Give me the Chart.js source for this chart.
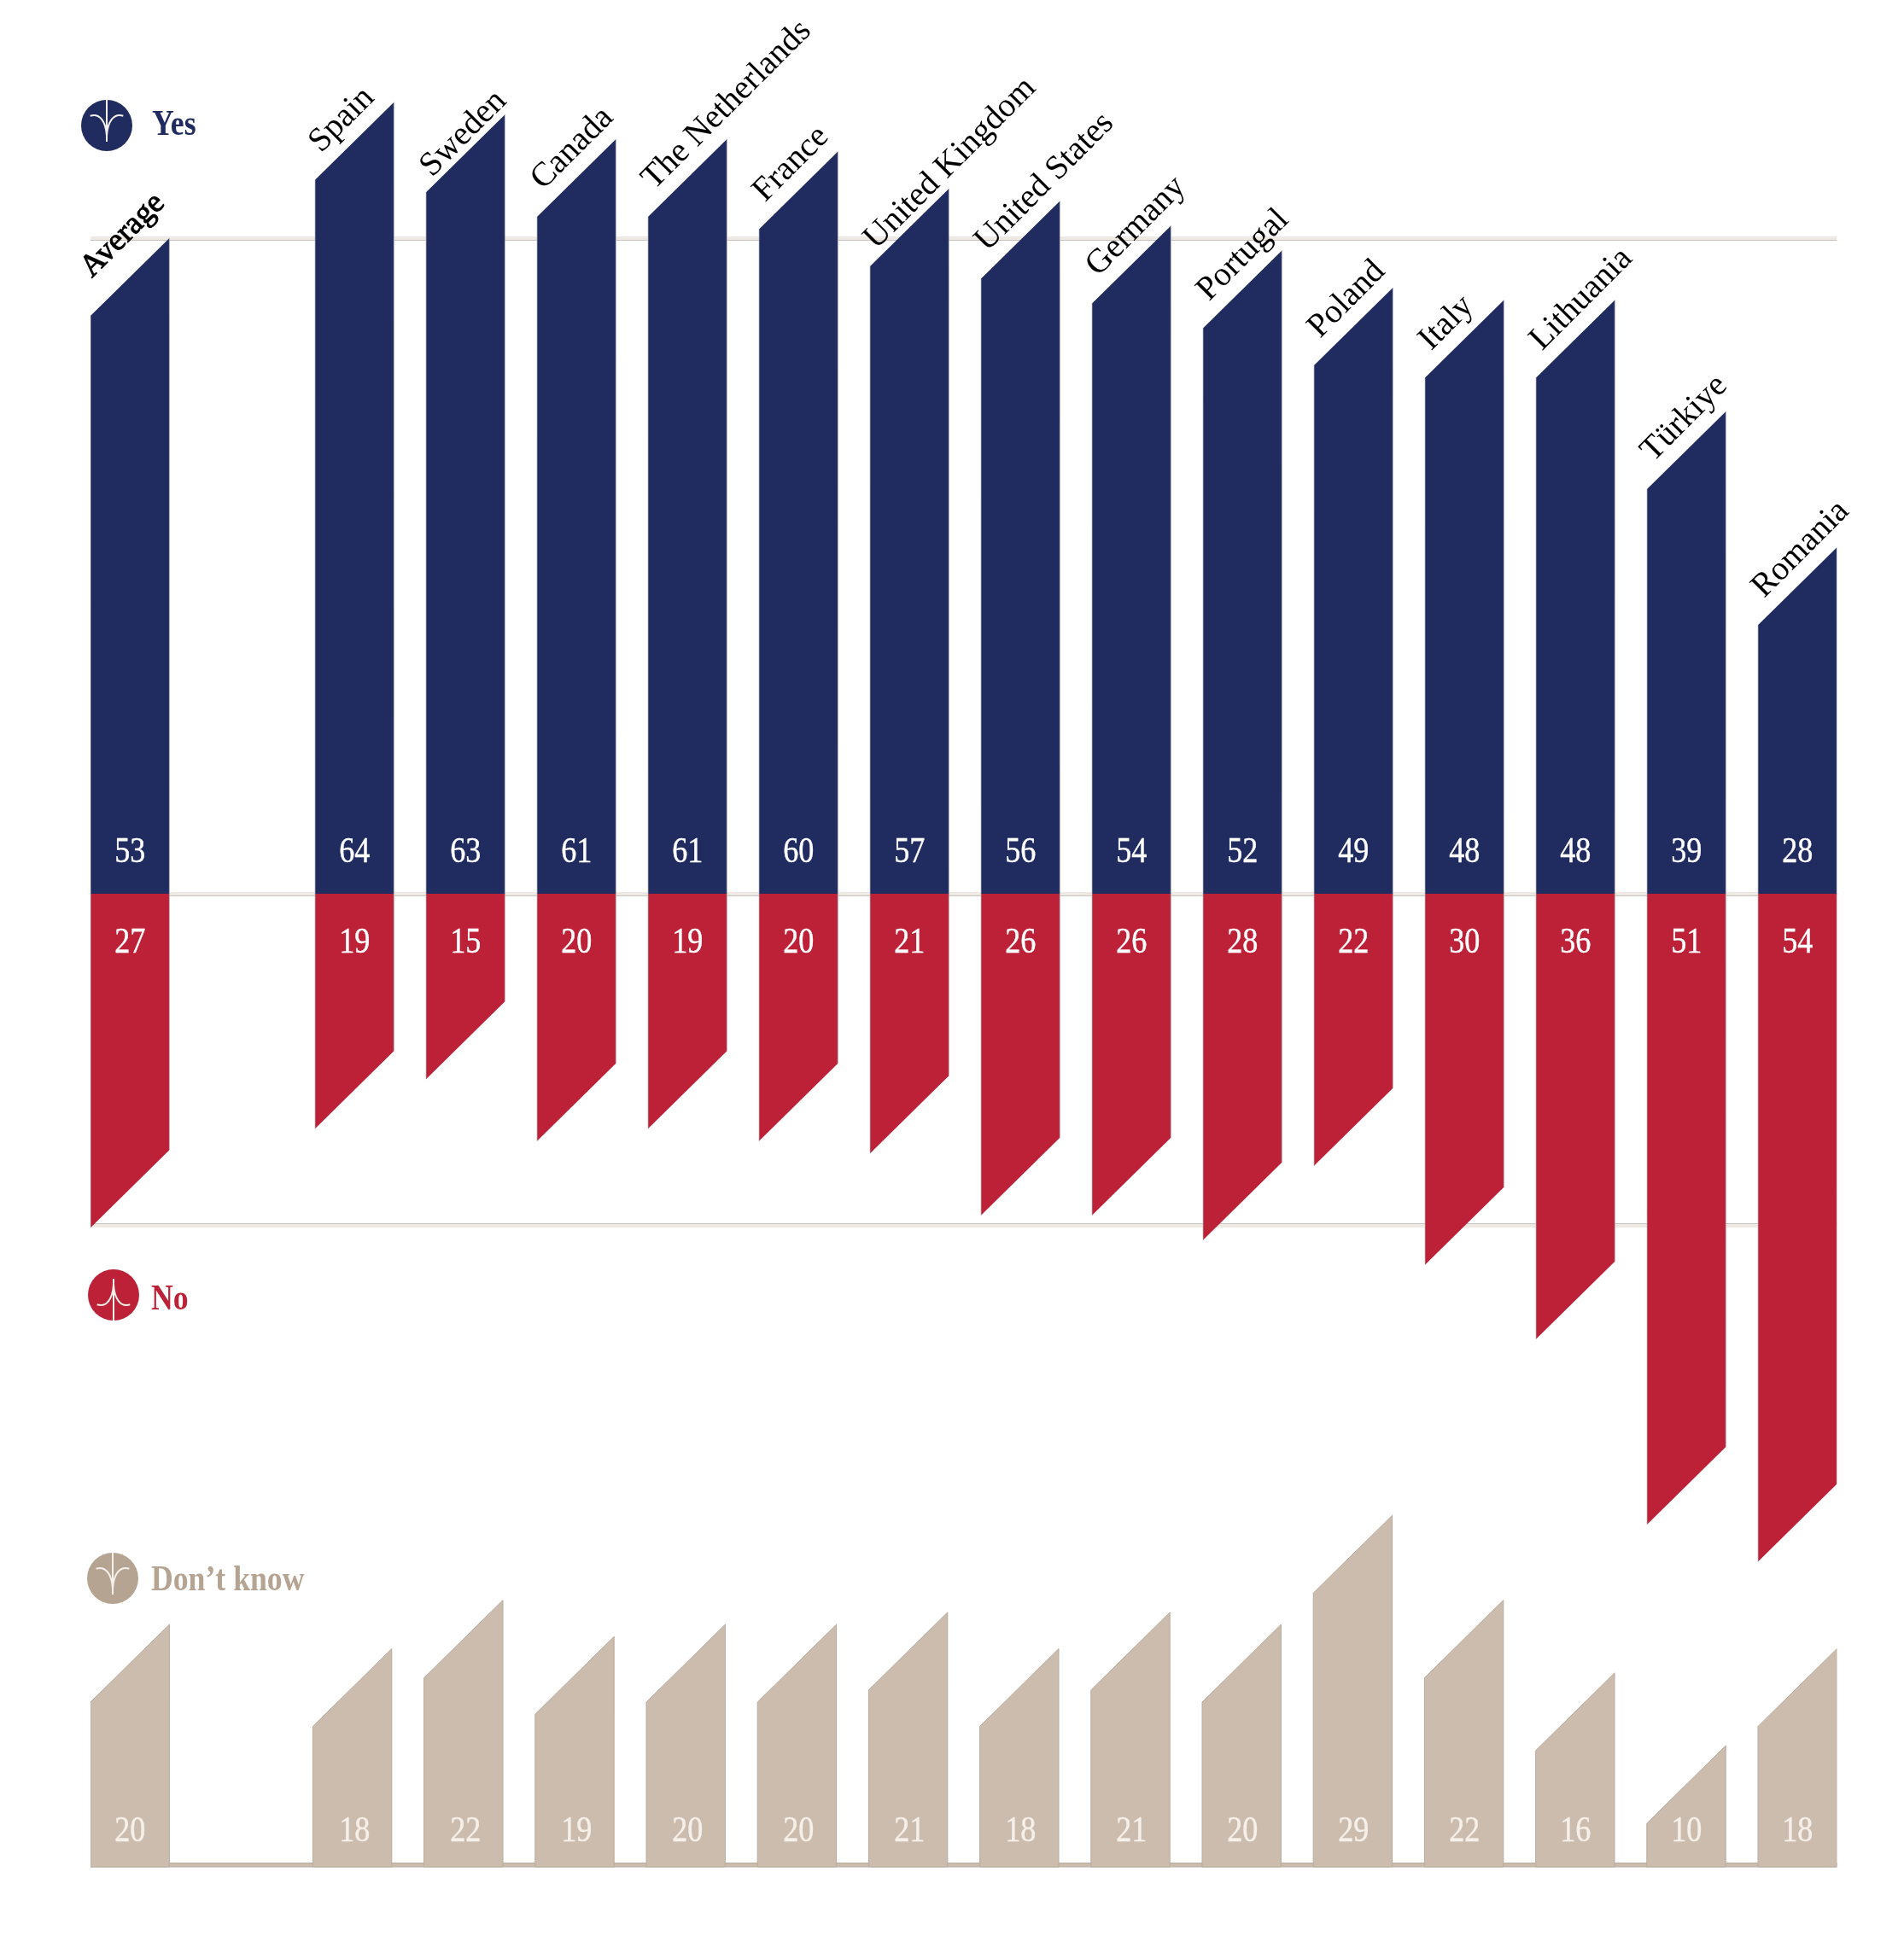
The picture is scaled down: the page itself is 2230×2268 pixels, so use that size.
<!DOCTYPE html>
<html>
<head>
<meta charset="utf-8">
<style>html,body{margin:0;padding:0;background:#fff}canvas{display:block}</style>
<script src="https://cdn.jsdelivr.net/npm/chart.js@4"></script>
</head>
<body>
<canvas id="c" width="2230" height="2268" style="width:2230px;height:2268px"></canvas>
<script>
const categories = ["Average","Spain","Sweden","Canada","The Netherlands","France","United Kingdom","United States","Germany","Portugal","Poland","Italy","Lithuania","Türkiye","Romania"];
const yes = [53,64,63,61,61,60,57,56,54,52,49,48,48,39,28];
const no = [27,19,15,20,19,20,21,26,26,28,22,30,36,51,54];
const dontKnow = [20,18,22,19,20,20,21,18,21,20,29,22,16,10,18];
const referenceLines = [53,0,-27];

const NAVY="#202c5f", RED="#bd2138", TAN="#ccbcad", TAN_DARK="#b5a491", PALE="#f6f0ea", RULE="#efe9e4", EDGE="#c6c3c0";
const SERIF='"Liberation Serif", serif';
const BAR=92.4, CUT=91;
const labelDrop={"Sweden":14,"United Kingdom":12};

class GappedCategory extends Chart.CategoryScale {
  static id='gappedCategory';
  static defaults=Chart.CategoryScale.defaults;
  getPixelForValue(value){
    if(typeof value!=='number') value=this.parse(value);
    const half=BAR/2, c0=this.left+half, cN=this.right-half, gap=this.options.gap;
    const pitch=(cN-c0)/(gap+this.getLabels().length-2);
    return value===0?c0:c0+(gap+value-1)*pitch;
  }
  getValueForPixel(){return 0;}
}
Chart.register(GappedCategory);

// Bars keep the library's geometry, only the free end is cut on a 45 degree slope
Chart.BarElement.prototype.draw=function(ctx){
  const o=this.options, l=this.x-this.width/2, r=this.x+this.width/2, up=this.y<this.base;
  const ly=up?this.y+CUT:this.y, ry=up?this.y:this.y-CUT;
  ctx.save();
  ctx.beginPath();
  ctx.moveTo(l,this.base);ctx.lineTo(l,ly);ctx.lineTo(r,ry);ctx.lineTo(r,this.base);
  ctx.closePath();
  ctx.fillStyle=o.backgroundColor;ctx.fill();
  ctx.strokeStyle=o.borderColor;ctx.lineWidth=o.borderWidth;
  if(o.backgroundColor===TAN){ctx.stroke();}
  else{
    ctx.beginPath();ctx.moveTo(l,this.base);ctx.lineTo(l,ly);ctx.moveTo(r,ry);ctx.lineTo(r,this.base);ctx.stroke();
  }
  ctx.restore();
};

function glyph(ctx,x,y,flip,color){
  ctx.save();ctx.translate(x,y);
  ctx.beginPath();ctx.arc(0,0,30,0,Math.PI*2);ctx.fillStyle=color;ctx.fill();
  if(flip)ctx.scale(1,-1);
  ctx.strokeStyle=PALE;ctx.lineWidth=2;
  ctx.beginPath();ctx.moveTo(0,-30);ctx.lineTo(0,19);ctx.stroke();
  ctx.lineWidth=2;
  ctx.beginPath();ctx.moveTo(-19.3,-11.3);ctx.bezierCurveTo(-8,-15,-1,-4,0,12);ctx.stroke();
  ctx.beginPath();ctx.moveTo(19.3,-11.3);ctx.bezierCurveTo(8,-15,1,-4,0,12);ctx.stroke();
  ctx.restore();
}
function condensed(ctx,t,x,y,font,sx,color,stroke,align){
  ctx.save();ctx.translate(x,y);ctx.scale(sx,1);
  ctx.font=font;ctx.fillStyle=color;ctx.textAlign=align;ctx.textBaseline='alphabetic';
  if(stroke){ctx.strokeStyle=color;ctx.lineWidth=stroke;ctx.strokeText(t,0,0);}
  ctx.fillText(t,0,0);ctx.restore();
}

const annotate={
  id:'annotate',
  beforeDatasetsDraw(chart){
    const {ctx,chartArea:a,scales:{y,y2}}=chart, w=a.right-a.left;
    ctx.save();
    referenceLines.forEach(v=>{
      const p=Math.round(y.getPixelForValue(v)), top=v<0?p-4:p-2, edge=v<0?p-5:p+2;
      ctx.fillStyle=RULE;ctx.fillRect(a.left,top,w,4);
      ctx.fillStyle=EDGE;ctx.fillRect(a.left,edge,w,1);
    });
    const b=y2.getPixelForValue(0);
    ctx.fillStyle=TAN;ctx.fillRect(a.left,b-4.5,w,4.5);
    ctx.strokeStyle='#b8ac9f';ctx.lineWidth=1;ctx.strokeRect(a.left+.5,b-4.5,w-1,4.5);
    ctx.restore();
  },
  afterDatasetsDraw(chart){
    const {ctx,scales:{x,y,y2}}=chart;
    const yesBars=chart.getDatasetMeta(0).data, vf='42px '+SERIF;
    categories.forEach((c,i)=>{
      const cx=x.getPixelForValue(i), z=y.getPixelForValue(0), z2=y2.getPixelForValue(0);
      condensed(ctx,String(yes[i]),cx,z-37,vf,.86,'#fff',.4,'center');
      condensed(ctx,String(no[i]),cx,z+69,vf,.86,'#fff',.4,'center');
      condensed(ctx,String(dontKnow[i]),cx,z2-30,vf,.86,PALE,.4,'center');
    });
    ctx.save();
    ctx.textAlign='left';ctx.textBaseline='alphabetic';ctx.fillStyle='#000';
    categories.forEach((c,i)=>{
      const bar=yesBars[i], lx=bar.x-bar.width/2, ly=bar.y+CUT, drop=labelDrop[c]||0;
      ctx.save();
      ctx.font=(i?'39.5px ':'37px ')+SERIF;
      ctx.translate(lx+(i?7:1.5),ly+drop-(i?31:44));
      ctx.rotate(-Math.PI/4);
      if(i===0){ctx.strokeStyle='#000';ctx.lineWidth=1;ctx.strokeText(c,0,0);}
      ctx.fillText(c,0,0);
      ctx.restore();
    });
    ctx.restore();
    const lf='bold 43px '+SERIF;
    glyph(ctx,125,147,false,NAVY);condensed(ctx,'Yes',178,158,lf,.83,NAVY,0,'left');
    glyph(ctx,133,1517,true,RED);condensed(ctx,'No',177,1534,lf,.83,RED,0,'left');
    glyph(ctx,132,1849,false,TAN_DARK);condensed(ctx,'Don’t know',177,1863,lf,.83,TAN_DARK,0,'left');
  }
};

const shared={grouped:false,barPercentage:0.9,categoryPercentage:1,maxBarThickness:BAR,borderWidth:1};
new Chart(document.getElementById('c'),{
  type:'bar',
  data:{labels:categories,datasets:[
    {label:'Yes',data:yes,backgroundColor:NAVY,borderColor:'rgba(190,190,195,0.7)',xAxisID:'x',yAxisID:'y',...shared},
    {label:'No',data:no.map(v=>-v),backgroundColor:RED,borderColor:'rgba(190,190,195,0.7)',xAxisID:'x',yAxisID:'y',...shared},
    {label:"Don't know",data:dontKnow,backgroundColor:TAN,borderColor:'#b8ac9f',xAxisID:'x2',yAxisID:'y2',...shared}
  ]},
  options:{
    responsive:false,animation:false,
    layout:{padding:{left:106,right:78.6,top:0,bottom:0}},
    plugins:{legend:{display:false},tooltip:{enabled:false},title:{display:false}},
    scales:{
      x:{type:'gappedCategory',gap:2.023,display:false},
      x2:{type:'gappedCategory',gap:2,display:false},
      y:{type:'linear',min:-(2268-1047)/14.49,max:1047/14.49,display:false},
      y2:{type:'linear',min:-(2268-2187)/14.2,max:2187/14.2,display:false,position:'right'}
    }
  },
  plugins:[annotate]
});
</script>
</body>
</html>
